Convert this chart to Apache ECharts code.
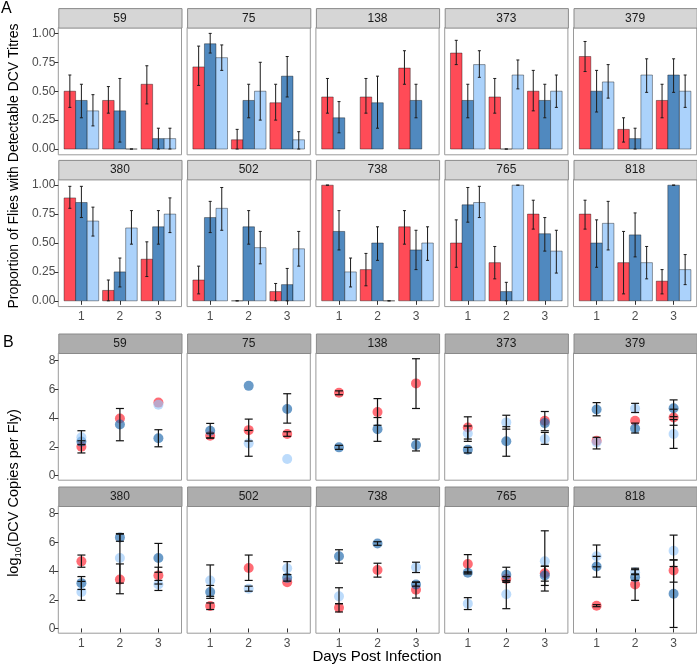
<!DOCTYPE html>
<html><head><meta charset="utf-8">
<script src="https://cdn.jsdelivr.net/npm/echarts@6/dist/echarts.min.js"></script>
<style>html,body{margin:0;padding:0;background:#fff}#c{width:697px;height:667px}</style>
</head><body><div id="c"></div>
<script>
// ---------------- DATA ----------------
const facets = ['59','75','138','373','379','380','502','738','765','818'];
const days = [1, 2, 3];
const dayLabels = ['1', '2', '3'];
const propTicks = [0, 0.25, 0.5, 0.75, 1];
const logTicks = [0, 2, 4, 6, 8];

// Panel A: proportion of flies with detectable titres (per facet: day1, day2, day3)
const propRed = [[0.50,0.42,0.56],[0.71,0.08,0.40],[0.45,0.45,0.70],[0.83,0.45,0.50],[0.80,0.17,0.42],
                 [0.89,0.09,0.36],[0.18,0.00,0.08],[1.00,0.27,0.64],[0.50,0.33,0.75],[0.75,0.33,0.17]];
const propRedLo = [[0.36,0.31,0.39],[0.55,0.00,0.25],[0.31,0.31,0.56],[0.73,0.31,0.33],[0.67,0.06,0.27],
                   [0.80,0.00,0.21],[0.06,0.00,0.00],[1.00,0.13,0.49],[0.29,0.19,0.62],[0.62,0.06,0.06]];
const propRedHi = [[0.64,0.54,0.72],[0.89,0.17,0.56],[0.61,0.61,0.85],[0.94,0.61,0.68],[0.93,0.27,0.56],
                   [0.99,0.18,0.51],[0.30,0.00,0.15],[1.00,0.41,0.78],[0.70,0.47,0.87],[0.87,0.60,0.27]];
const propDark = [[0.42,0.33,0.09],[0.91,0.42,0.63],[0.27,0.40,0.42],[0.42,0.00,0.42],[0.50,0.09,0.64],
                  [0.85,0.25,0.64],[0.72,0.64,0.14],[0.60,0.50,0.44],[0.83,0.08,0.58],[0.50,0.57,1.00]];
const propDarkLo = [[0.27,0.06,0.00],[0.83,0.27,0.45],[0.14,0.18,0.27],[0.27,0.00,0.27],[0.32,0.00,0.49],
                    [0.72,0.12,0.49],[0.59,0.49,0.00],[0.44,0.35,0.27],[0.68,0.00,0.43],[0.29,0.38,1.00]];
const propDarkHi = [[0.56,0.61,0.18],[1.00,0.56,0.80],[0.41,0.63,0.56],[0.56,0.00,0.56],[0.68,0.18,0.78],
                    [0.99,0.37,0.78],[0.86,0.78,0.28],[0.78,0.64,0.61],[0.98,0.16,0.72],[0.70,0.76,1.00]];
const propLight = [[0.33,0.00,0.09],[0.79,0.50,0.08],[null,null,null],[0.73,0.64,0.50],[0.58,0.64,0.50],
                   [0.69,0.63,0.75],[0.80,0.46,0.45],[0.25,0.00,0.50],[0.85,1.00,0.43],[0.67,0.33,0.27]];
const propLightLo = [[0.20,0.00,0.00],[0.68,0.25,0.00],[null,null,null],[0.62,0.52,0.36],[0.44,0.49,0.36],
                     [0.56,0.49,0.59],[0.61,0.32,0.30],[0.12,0.00,0.35],[0.72,1.00,0.24],[0.44,0.19,0.14]];
const propLightHi = [[0.47,0.00,0.18],[0.90,0.75,0.15],[null,null,null],[0.85,0.77,0.64],[0.73,0.78,0.64],
                     [0.81,0.78,0.89],[0.98,0.60,0.60],[0.37,0.00,0.64],[0.99,1.00,0.61],[0.86,0.47,0.40]];

// Panel B: log10 DCV copies per fly
const logRed = [[2.00,3.97,5.08],[2.77,3.16,2.89],[5.77,4.43,6.42],[3.35,null,3.81],[2.42,3.81,4.04],
                [4.68,3.42,3.69],[1.57,4.22,3.23],[1.45,4.08,2.70],[4.50,3.46,3.85],[1.59,3.07,4.04]];
const logRedLo = [[1.57,null,null],[2.62,2.40,2.73],[5.63,3.50,4.67],[2.54,null,3.12],[null,null,3.50],
                  [4.27,2.42,3.10],[1.32,3.35,null],[1.15,3.58,2.12],[3.88,3.30,3.30],[1.52,1.96,3.23]];
const logRedHi = [[2.42,null,null],[2.95,3.93,3.05],[5.90,5.36,8.14],[4.09,null,4.46],[null,null,4.62],
                  [5.12,4.50,4.27],[1.78,5.12,null],[1.73,4.55,3.23],[5.15,3.62,4.34],[1.66,4.20,4.78]];
const logDark = [[2.36,3.56,2.59],[3.12,6.25,4.64],[1.96,3.23,2.12],[1.80,2.38,3.65],[4.60,3.28,4.69],
                 [3.16,6.35,4.92],[2.54,null,3.53],[5.03,5.93,3.07],[3.88,3.74,3.69],[4.32,3.58,2.42]];
const logDarkLo = [[2.15,2.42,2.00],[2.60,null,3.65],[1.82,2.38,1.71],[1.57,1.34,null],[4.16,2.96,4.10],
                   [2.72,6.08,3.92],[2.10,null,3.30],[4.55,5.80,2.95],[3.80,3.21,3.00],[3.58,3.35,0.07]];
const logDarkHi = [[3.12,4.67,3.19],[3.63,null,5.70],[2.10,4.04,2.54],[1.96,3.40,null],[5.08,3.65,5.27],
                   [3.62,6.62,5.93],[3.00,null,3.76],[5.49,6.05,3.23],[3.95,4.27,4.34],[5.03,3.80,4.78]];
const logLight = [[2.66,null,4.94],[null,2.24,1.15],[null,null,null],[2.93,3.70,2.54],[2.31,4.67,2.89],
                  [2.54,4.92,3.07],[3.35,2.77,4.20],[2.24,null,4.27],[1.73,2.38,4.68],[5.03,3.92,5.42]];
const logLightLo = [[null,null,null],[null,1.34,null],[null,null,null],[2.38,3.23,2.17],[1.85,4.39,1.89],
                    [1.96,3.16,2.65],[2.24,2.60,3.76],[1.73,null,3.90],[1.32,1.38,2.61],[4.30,3.75,4.32]];
const logLightHi = [[null,null,null],[null,3.14,null],[null,null,null],[3.45,4.20,3.00],[2.66,5.03,3.90],
                    [3.28,6.58,3.35],[4.43,2.95,4.66],[2.84,null,4.62],[2.15,3.35,6.81],[5.82,4.10,6.51]];

// ---------------- LAYOUT / STYLE ----------------
const FONT = '"Liberation Sans", Arial, sans-serif';
const L0 = 58.3, PITCH = 128.8, PW = 123.2, PH = 127.2, STRIP_H = 19.5;
const A_TOPS = [27.6, 179.4], B_TOPS = [353.0, 506.0];
const BAR_W = 0.3;
const barColors = ['#FF4B57', '#5089BF', '#ABD2FB'];
const ptColors = ['rgba(255,30,45,0.82)', 'rgba(37,108,175,0.85)', 'rgba(150,198,248,0.8)'];

const grids = [], xAxes = [], yAxes = [], series = [], graphics = [];

function addPanel(idx, left, top, isBottom, isLeft, ymin, ymax, yticks, yfmt) {
  grids.push({left, top, width: PW, height: PH, show: true, backgroundColor: '#fff',
    borderColor: '#9a9a9a', borderWidth: 1, containLabel: false, outerBoundsMode: 'none'});
  xAxes.push({type: 'value', gridIndex: idx, min: 0.4, max: 3.6,
    axisLine: {show: false}, splitLine: {show: false},
    axisTick: {show: isBottom, customValues: days, length: 4, lineStyle: {color: '#333', width: 1}},
    axisLabel: {show: isBottom, customValues: days, margin: 4, fontSize: 12, color: '#4d4d4d', fontFamily: FONT,
      formatter: v => dayLabels[days.indexOf(v)]}});
  yAxes.push({type: 'value', gridIndex: idx, min: ymin, max: ymax,
    axisLine: {show: false}, splitLine: {show: false},
    axisTick: {show: isLeft, customValues: yticks, length: 4, lineStyle: {color: '#333', width: 1}},
    axisLabel: {show: isLeft, customValues: yticks, margin: 3, fontSize: 12, color: '#4d4d4d', fontFamily: FONT,
      formatter: yfmt}});
}

function addStrip(left, top, label, fill) {
  graphics.push({type: 'rect', left: left, top: top - STRIP_H, z: 10,
    shape: {width: PW, height: STRIP_H},
    style: {fill: fill, stroke: '#8a8a8a', lineWidth: 1}});
  graphics.push({type: 'text', x: left + PW / 2, y: top - STRIP_H / 2 + 0.5, z: 11,
    style: {text: label, fill: '#1a1a1a', font: '12px ' + FONT, textAlign: 'center', textVerticalAlign: 'middle'}});
}

function barRender(offset, color) {
  return function (params, api) {
    const x = api.value(0) + offset, v = api.value(1), lo = api.value(2), hi = api.value(3);
    const a = api.coord([x - BAR_W / 2, v]), b = api.coord([x + BAR_W / 2, 0]);
    const children = [{type: 'rect',
      shape: {x: a[0], y: a[1], width: b[0] - a[0], height: b[1] - a[1]},
      style: {fill: color, stroke: 'rgba(0,0,0,0.55)', lineWidth: 0.7}}];
    if (!isNaN(lo) && !isNaN(hi) && lo !== null && hi !== null) {
      const pl = api.coord([x, lo]), ph = api.coord([x, hi]);
      const st = {stroke: '#1c1c1c', lineWidth: 1};
      children.push({type: 'line', shape: {x1: pl[0], y1: pl[1], x2: ph[0], y2: ph[1]}, style: st});
      children.push({type: 'line', shape: {x1: pl[0] - 1.5, y1: pl[1], x2: pl[0] + 1.5, y2: pl[1]}, style: st});
      children.push({type: 'line', shape: {x1: ph[0] - 1.5, y1: ph[1], x2: ph[0] + 1.5, y2: ph[1]}, style: st});
    }
    return {type: 'group', children};
  };
}

function errRender(params, api) {
  const x = api.value(0), lo = api.value(1), hi = api.value(2);
  const pl = api.coord([x, lo]), ph = api.coord([x, hi]);
  const st = {stroke: '#111', lineWidth: 1.2};
  return {type: 'group', children: [
    {type: 'line', shape: {x1: pl[0], y1: pl[1], x2: ph[0], y2: ph[1]}, style: st},
    {type: 'line', shape: {x1: pl[0] - 4, y1: pl[1], x2: pl[0] + 4, y2: pl[1]}, style: st},
    {type: 'line', shape: {x1: ph[0] - 4, y1: ph[1], x2: ph[0] + 4, y2: ph[1]}, style: st}]};
}

// Panel A
const propSets = [[propRed, propRedLo, propRedHi], [propDark, propDarkLo, propDarkHi], [propLight, propLightLo, propLightHi]];
facets.forEach((f, i) => {
  const col = i % 5, row = Math.floor(i / 5);
  const left = L0 + col * PITCH, top = A_TOPS[row];
  const gi = grids.length;
  addPanel(gi, left, top, row === 1, col === 0, -0.05, 1.05, propTicks, v => v.toFixed(2));
  addStrip(left, top, f, '#D6D6D6');
  propSets.forEach((set, g) => {
    const data = [];
    days.forEach((d, k) => {
      if (set[0][i][k] !== null) data.push([d, set[0][i][k], set[1][i][k], set[2][i][k]]);
    });
    series.push({type: 'custom', xAxisIndex: gi, yAxisIndex: gi, data, renderItem: barRender((g - 1) * BAR_W, barColors[g]),
      silent: true, z: 2, clip: false});
  });
});

// Panel B
const logSets = [[logRed, logRedLo, logRedHi], [logDark, logDarkLo, logDarkHi], [logLight, logLightLo, logLightHi]];
facets.forEach((f, i) => {
  const col = i % 5, row = Math.floor(i / 5);
  const left = L0 + col * PITCH, top = B_TOPS[row];
  const gi = grids.length;
  addPanel(gi, left, top, row === 1, col === 0, -0.33, 8.54, logTicks, v => String(v));
  addStrip(left, top, f, '#ADADAD');
  logSets.forEach((set, g) => {
    const pts = [];
    days.forEach((d, k) => { if (set[0][i][k] !== null) pts.push([d, set[0][i][k]]); });
    series.push({type: 'scatter', xAxisIndex: gi, yAxisIndex: gi, data: pts, symbol: 'circle', symbolSize: 10,
      itemStyle: {color: ptColors[g], borderWidth: 0}, silent: true, z: 3 + g});
  });
  logSets.forEach((set, g) => {
    const eb = [];
    days.forEach((d, k) => { if (set[1][i][k] !== null && set[2][i][k] !== null) eb.push([d, set[1][i][k], set[2][i][k]]); });
    series.push({type: 'custom', xAxisIndex: gi, yAxisIndex: gi, data: eb, renderItem: errRender, silent: true, z: 8, clip: false});
  });
});

// Titles / labels
graphics.push({type: 'text', x: 1, y: 1, style: {text: 'A', font: '16px ' + FONT, fill: '#000'}});
graphics.push({type: 'text', x: 3, y: 335, style: {text: 'B', font: '16px ' + FONT, fill: '#000'}});
graphics.push({type: 'text', x: 14, y: 166, rotation: Math.PI / 2,
  style: {text: 'Proportion of Flies with Detectable DCV Titres', font: '14px ' + FONT, fill: '#000',
    textAlign: 'center', textVerticalAlign: 'middle'}});
graphics.push({type: 'text', x: 14, y: 493, rotation: Math.PI / 2,
  style: {text: '{a|log}{s|10}{a|(DCV Copies per Fly)}', textAlign: 'center', textVerticalAlign: 'middle',
    rich: {a: {fontSize: 14.5, fontFamily: FONT, fill: '#000', lineHeight: 22, verticalAlign: 'middle'},
           s: {fontSize: 9.5, fontFamily: FONT, fill: '#000', lineHeight: 22, verticalAlign: 'middle', padding: [8, 0, 0, 0]}}}});
graphics.push({type: 'text', x: 377, y: 657,
  style: {text: 'Days Post Infection', font: '15px ' + FONT, fill: '#000', textAlign: 'center', textVerticalAlign: 'middle'}});

const chart = echarts.init(document.getElementById('c'), null, {renderer: 'canvas'});
chart.setOption({animation: false, backgroundColor: '#fff', grid: grids, xAxis: xAxes, yAxis: yAxes, series, graphic: graphics});
</script>
</body></html>
